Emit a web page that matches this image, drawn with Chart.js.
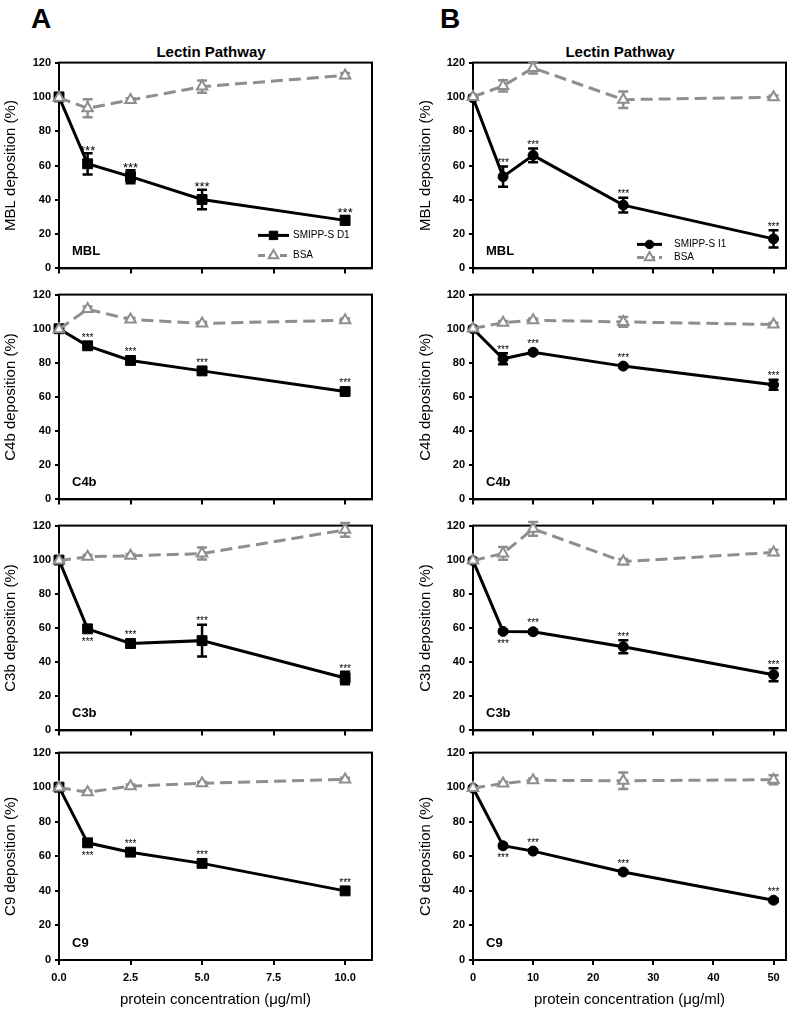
<!DOCTYPE html>
<html><head><meta charset="utf-8">
<script src="https://cdn.jsdelivr.net/npm/chart.js@4.4.1/dist/chart.umd.min.js"></script>
<style>
html,body{margin:0;padding:0;background:#fff;}
body{width:794px;height:1014px;position:relative;overflow:hidden;font-family:"Liberation Sans",Arial,sans-serif;color:#000;}
.lbl{position:absolute;font-weight:bold;white-space:nowrap;}
.ttl{position:absolute;width:240px;text-align:center;font-weight:bold;font-size:15px;white-space:nowrap;}
</style></head><body>
<div class="lbl" style="left:31px;top:3px;font-size:28px;">A</div>
<div class="lbl" style="left:440px;top:3px;font-size:28px;">B</div>
<div class="ttl" style="left:91px;top:43px;">Lectin Pathway</div>
<div class="ttl" style="left:500px;top:43px;">Lectin Pathway</div>
<script>
// ---------- data ----------
const xA = [0, 1, 2.5, 5, 10];
const xB = [0, 5, 10, 25, 50];
const xTicksA = [0, 2.5, 5, 7.5, 10];
const xTickLabelsA = ['0.0', '2.5', '5.0', '7.5', '10.0'];
const xTicksB = [0, 10, 20, 30, 40, 50];
const xTickLabelsB = ['0', '10', '20', '30', '40', '50'];
const yTicks = [0, 20, 40, 60, 80, 100, 120];
const yTickLabels = ['0', '20', '40', '60', '80', '100', '120'];
const seriesA = ['SMIPP-S D1', 'BSA'];
const seriesB = ['SMIPP-S I1', 'BSA'];
const panelNames = ['MBL', 'C4b', 'C3b', 'C9'];
const yTitles = ['MBL deposition (%)', 'C4b deposition (%)', 'C3b deposition (%)', 'C9 deposition (%)'];
const xTitle = 'protein concentration (\u03bcg/ml)';
const sigLabels = ['', '***', '***', '***', '***'];

// Column A (SMIPP-S D1)
const aMblD1 = [100, 61, 53.5, 40.2, 28];
const aMblD1Err = [1, 6.2, 3.8, 5.7, 2.5];
const aMblBsa = [99.5, 93.4, 98.2, 106, 112.5];
const aMblBsaErr = [1, 5.2, 1, 3.6, 1.5];
const aMblBelow = [0, 0, 0, 0, 0];

const aC4bD1 = [100, 90, 81.4, 75.3, 63.2];
const aC4bD1Err = [1, 1, 1, 1, 1];
const aC4bBsa = [99.7, 111.5, 105.4, 103.1, 105];
const aC4bBsaErr = [1, 1.5, 1, 1, 1];
const aC4bBelow = [0, 0, 0, 0, 0];

const aC3bD1 = [99.8, 59.5, 50.9, 52.6, 30.7];
const aC3bD1Err = [1, 1, 1, 9.3, 3.6];
const aC3bBsa = [99.5, 101.8, 102.3, 103.6, 117.5];
const aC3bBsaErr = [1, 1, 1, 3.5, 4];
const aC3bBelow = [0, 1, 0, 0, 0];

const aC9D1 = [100, 67.8, 62.4, 55.9, 40];
const aC9D1Err = [1, 1, 1, 1, 1];
const aC9Bsa = [99.8, 97, 100.6, 102.2, 104.5];
const aC9BsaErr = [1, 1, 1, 1, 1];
const aC9Below = [0, 1, 0, 0, 0];

// Column B (SMIPP-S I1)
const bMblI1 = [99.5, 53.5, 65.9, 36.9, 17.2];
const bMblI1Err = [1, 5.9, 4, 4.3, 5];
const bMblBsa = [100, 106.4, 116.9, 98.4, 99.8];
const bMblBsaErr = [1, 3.3, 3.3, 4.8, 1];
const bMblBelow = [0, 0, 0, 0, 0];

const bC4bI1 = [100, 82.4, 86.2, 78.1, 67.2];
const bC4bI1Err = [1, 3.2, 1, 1, 2.9];
const bC4bBsa = [100.2, 103.5, 105, 104, 102.5];
const bC4bBsaErr = [1, 1, 1, 2.9, 1];
const bC4bBelow = [0, 0, 0, 0, 0];

const bC3bI1 = [99.5, 58, 57.8, 49, 32.6];
const bC3bI1Err = [1, 1, 1, 3.8, 3.8];
const bC3bBsa = [99.5, 103.7, 118.1, 98.9, 104.3];
const bC3bBsaErr = [1, 3.7, 4, 1.5, 1.5];
const bC3bBelow = [0, 1, 0, 0, 0];

const bC9I1 = [99.5, 66.1, 63, 50.9, 34.6];
const bC9I1Err = [1, 1, 1, 1, 1];
const bC9Bsa = [99.5, 102.1, 104, 103.7, 104.3];
const bC9BsaErr = [1, 1, 1, 4.8, 2.6];
const bC9Below = [0, 1, 0, 0, 0];

// ---------- layout ----------
const BLACK = '#000';
const GRAY = '#8e8e8e';
const GEOM = {colX: [0, 397], plotL: [59, 473], plotR: [372, 787],
  plotT: [62, 294, 525, 752], plotB: [271, 502, 733, 960]};

Chart.defaults.font.family = "'Liberation Sans', Arial, sans-serif";
Chart.defaults.color = '#000';

function drawMarker(ctx, style, x, y, r, fill, stroke, bw) {
  ctx.save();
  ctx.setLineDash([]);
  ctx.fillStyle = fill; ctx.strokeStyle = stroke; ctx.lineWidth = bw;
  ctx.beginPath();
  if (style === 'rect') {
    const s = r * Math.SQRT1_2;
    ctx.rect(x - s, y - s, 2 * s, 2 * s);
  } else if (style === 'circle') {
    ctx.arc(x, y, r, 0, Math.PI * 2);
  } else {
    for (let k = 0; k < 3; k++) {
      const ang = -Math.PI / 2 + k * 2 * Math.PI / 3;
      const px = x + r * Math.cos(ang), py = y + r * Math.sin(ang);
      if (k === 0) ctx.moveTo(px, py); else ctx.lineTo(px, py);
    }
    ctx.closePath();
  }
  ctx.fill(); ctx.stroke();
  ctx.restore();
}

function makePanel(p) {
  const col = p.col, row = p.row;
  const padTop = 10;
  const bottomH = row === 3 ? 54 : 8;
  const cx = GEOM.colX[col];
  const top = GEOM.plotT[row] - padTop;
  const h = GEOM.plotB[row] - GEOM.plotT[row] + padTop + bottomH;
  const padL = col === 0 ? 0 : 18;
  const yW = GEOM.plotL[col] - cx - padL;
  const padR = cx + 397 - GEOM.plotR[col];
  const cv = document.createElement('canvas');
  cv.width = 397; cv.height = h;
  cv.style.cssText = `position:absolute;left:${cx}px;top:${top}px;width:397px;height:${h}px;`;
  document.body.appendChild(cv);

  const m1 = col === 0 ? 'rect' : 'circle';
  const r1 = col === 0 ? 7 : 5;

  const plugin = {
    id: 'panelDeco' + col + row,
    beforeDatasetsDraw(chart) {
      const {ctx, chartArea: a, scales: {x, y}} = chart;
      ctx.save();
      ctx.strokeStyle = BLACK; ctx.lineWidth = 2;
      ctx.strokeRect(a.left, a.top, a.right - a.left, a.bottom - a.top);
      const sets = [[p.s2, p.e2, GRAY], [p.s1, p.e1, BLACK]];
      sets.forEach(([vals, errs, color]) => {
        ctx.strokeStyle = color; ctx.lineWidth = 2.5; ctx.setLineDash([]);
        vals.forEach((v, i) => {
          const e = errs[i]; if (!e) return;
          const px = x.getPixelForValue(p.x[i]);
          const y1 = y.getPixelForValue(v + e), y2 = y.getPixelForValue(v - e);
          ctx.beginPath();
          ctx.moveTo(px, y1); ctx.lineTo(px, y2);
          ctx.moveTo(px - 5, y1); ctx.lineTo(px + 5, y1);
          ctx.moveTo(px - 5, y2); ctx.lineTo(px + 5, y2);
          ctx.stroke();
        });
      });
      ctx.restore();
    },
    afterDatasetsDraw(chart) {
      const {ctx, chartArea: a, scales: {x, y}} = chart;
      ctx.save();
      // significance stars
      const fs = p.starSize;
      ctx.font = `${fs}px 'Liberation Sans', Arial, sans-serif`;
      ctx.fillStyle = BLACK; ctx.textAlign = 'center'; ctx.textBaseline = 'alphabetic';
      p.s1.forEach((v, i) => {
        const t = sigLabels[i]; if (!t) return;
        const px = x.getPixelForValue(p.x[i]);
        const py = y.getPixelForValue(v);
        let cy;
        if (p.below[i]) {
          cy = Math.max(y.getPixelForValue(v - p.e1[i]), py + 5) + 5;
        } else {
          cy = Math.min(y.getPixelForValue(v + p.e1[i]), py - 5) - 6;
        }
        ctx.fillText(t, px, cy + 0.57 * fs);
      });
      // panel name
      ctx.font = "bold 13px 'Liberation Sans', Arial, sans-serif";
      ctx.textAlign = 'left';
      ctx.fillText(p.name, a.left + 13, a.bottom - 13);
      // legend
      if (p.legend) {
        const L = p.legend;
        const rows = [
          {txt: p.names[0], color: BLACK, dash: [], style: m1, r: r1 * 0.85, fill: BLACK, bw: 1},
          {txt: p.names[1], color: GRAY, dash: [7, 4], style: 'triangle', r: 5.5, fill: '#fff', bw: 2}
        ];
        rows.forEach((it, k) => {
          const ly = a.bottom - L.dy[k];
          const x0 = a.left + L.x0, x1 = a.left + L.x1;
          ctx.strokeStyle = it.color; ctx.lineWidth = 3; ctx.setLineDash(it.dash);
          ctx.beginPath(); ctx.moveTo(x0, ly); ctx.lineTo(x1, ly); ctx.stroke();
          drawMarker(ctx, it.style, (x0 + x1) / 2, ly, it.r, it.fill, it.color, it.bw);
          ctx.setLineDash([]);
          ctx.fillStyle = BLACK;
          ctx.font = "10px 'Liberation Sans', Arial, sans-serif";
          ctx.textAlign = 'left'; ctx.textBaseline = 'middle';
          ctx.fillText(it.txt, a.left + L.tx, ly);
        });
      }
      ctx.restore();
    }
  };

  new Chart(cv, {
    type: 'line',
    data: {
      datasets: [
        {label: p.names[0], data: p.x.map((xv, i) => ({x: xv, y: p.s1[i]})),
          borderColor: BLACK, backgroundColor: BLACK, borderWidth: 3,
          pointStyle: m1, pointRadius: r1, pointBorderWidth: 1,
          pointBackgroundColor: BLACK, pointBorderColor: BLACK, order: 1, clip: false, tension: 0},
        {label: p.names[1], data: p.x.map((xv, i) => ({x: xv, y: p.s2[i]})),
          borderColor: GRAY, backgroundColor: '#fff', borderWidth: 3, borderDash: [12, 6],
          pointStyle: 'triangle', pointRadius: 6, pointBorderWidth: 2,
          pointBackgroundColor: '#fff', pointBorderColor: GRAY, order: 0, clip: false, tension: 0}
      ]
    },
    options: {
      responsive: false, animation: false, devicePixelRatio: 1,
      layout: {padding: {top: padTop, left: padL, right: padR, bottom: 0}},
      plugins: {legend: {display: false}, tooltip: {enabled: false}},
      scales: {
        x: {
          type: 'linear', min: 0, max: p.xMax,
          afterFit: s => { s.height = bottomH; },
          afterBuildTicks: s => { s.ticks = p.xTicks.map(v => ({value: v})); },
          ticks: {display: row === 3, font: {size: 11, weight: 'bold'}, padding: 6,
            maxRotation: 0, autoSkip: false, callback: (v, i) => p.xLabels[i]},
          grid: {drawOnChartArea: false, drawTicks: true, tickLength: 5, color: BLACK, lineWidth: 2},
          border: {display: true, color: BLACK, width: 2},
          title: {display: row === 3, text: xTitle, font: {size: 15}, padding: {top: 0, bottom: 5}}
        },
        y: {
          type: 'linear', min: 0, max: 120,
          afterFit: s => { s.width = yW; },
          afterBuildTicks: s => { s.ticks = yTicks.map(v => ({value: v})); },
          ticks: {font: {size: 11, weight: 'bold'}, padding: 4, autoSkip: false,
            callback: (v, i) => yTickLabels[i]},
          grid: {drawOnChartArea: false, drawTicks: true, tickLength: 4, color: BLACK, lineWidth: 2},
          border: {display: true, color: BLACK, width: 2},
          title: {display: true, text: p.yTitle, font: {size: 15}, padding: {top: 2, bottom: 0}}
        }
      }
    },
    plugins: [plugin]
  });
}

const colA = {x: xA, xTicks: xTicksA, xLabels: xTickLabelsA, xMax: 10.94, names: seriesA};
const colB = {x: xB, xTicks: xTicksB, xLabels: xTickLabelsB, xMax: 52.07, names: seriesB};
const legA = {x0: 199, x1: 230, tx: 234, dy: [33, 13]};
const legB = {x0: 164, x1: 189, tx: 201, dy: [24, 11]};

const panels = [
  Object.assign({col: 0, row: 0, s1: aMblD1, e1: aMblD1Err, s2: aMblBsa, e2: aMblBsaErr, below: aMblBelow, legend: legA, starSize: 13}, colA),
  Object.assign({col: 0, row: 1, s1: aC4bD1, e1: aC4bD1Err, s2: aC4bBsa, e2: aC4bBsaErr, below: aC4bBelow, starSize: 10}, colA),
  Object.assign({col: 0, row: 2, s1: aC3bD1, e1: aC3bD1Err, s2: aC3bBsa, e2: aC3bBsaErr, below: aC3bBelow, starSize: 10}, colA),
  Object.assign({col: 0, row: 3, s1: aC9D1, e1: aC9D1Err, s2: aC9Bsa, e2: aC9BsaErr, below: aC9Below, starSize: 10}, colA),
  Object.assign({col: 1, row: 0, s1: bMblI1, e1: bMblI1Err, s2: bMblBsa, e2: bMblBsaErr, below: bMblBelow, legend: legB, starSize: 10}, colB),
  Object.assign({col: 1, row: 1, s1: bC4bI1, e1: bC4bI1Err, s2: bC4bBsa, e2: bC4bBsaErr, below: bC4bBelow, starSize: 10}, colB),
  Object.assign({col: 1, row: 2, s1: bC3bI1, e1: bC3bI1Err, s2: bC3bBsa, e2: bC3bBsaErr, below: bC3bBelow, starSize: 10}, colB),
  Object.assign({col: 1, row: 3, s1: bC9I1, e1: bC9I1Err, s2: bC9Bsa, e2: bC9BsaErr, below: bC9Below, starSize: 10}, colB)
];
panels.forEach(p => { p.name = panelNames[p.row]; p.yTitle = yTitles[p.row]; makePanel(p); });
</script>
</body></html>
